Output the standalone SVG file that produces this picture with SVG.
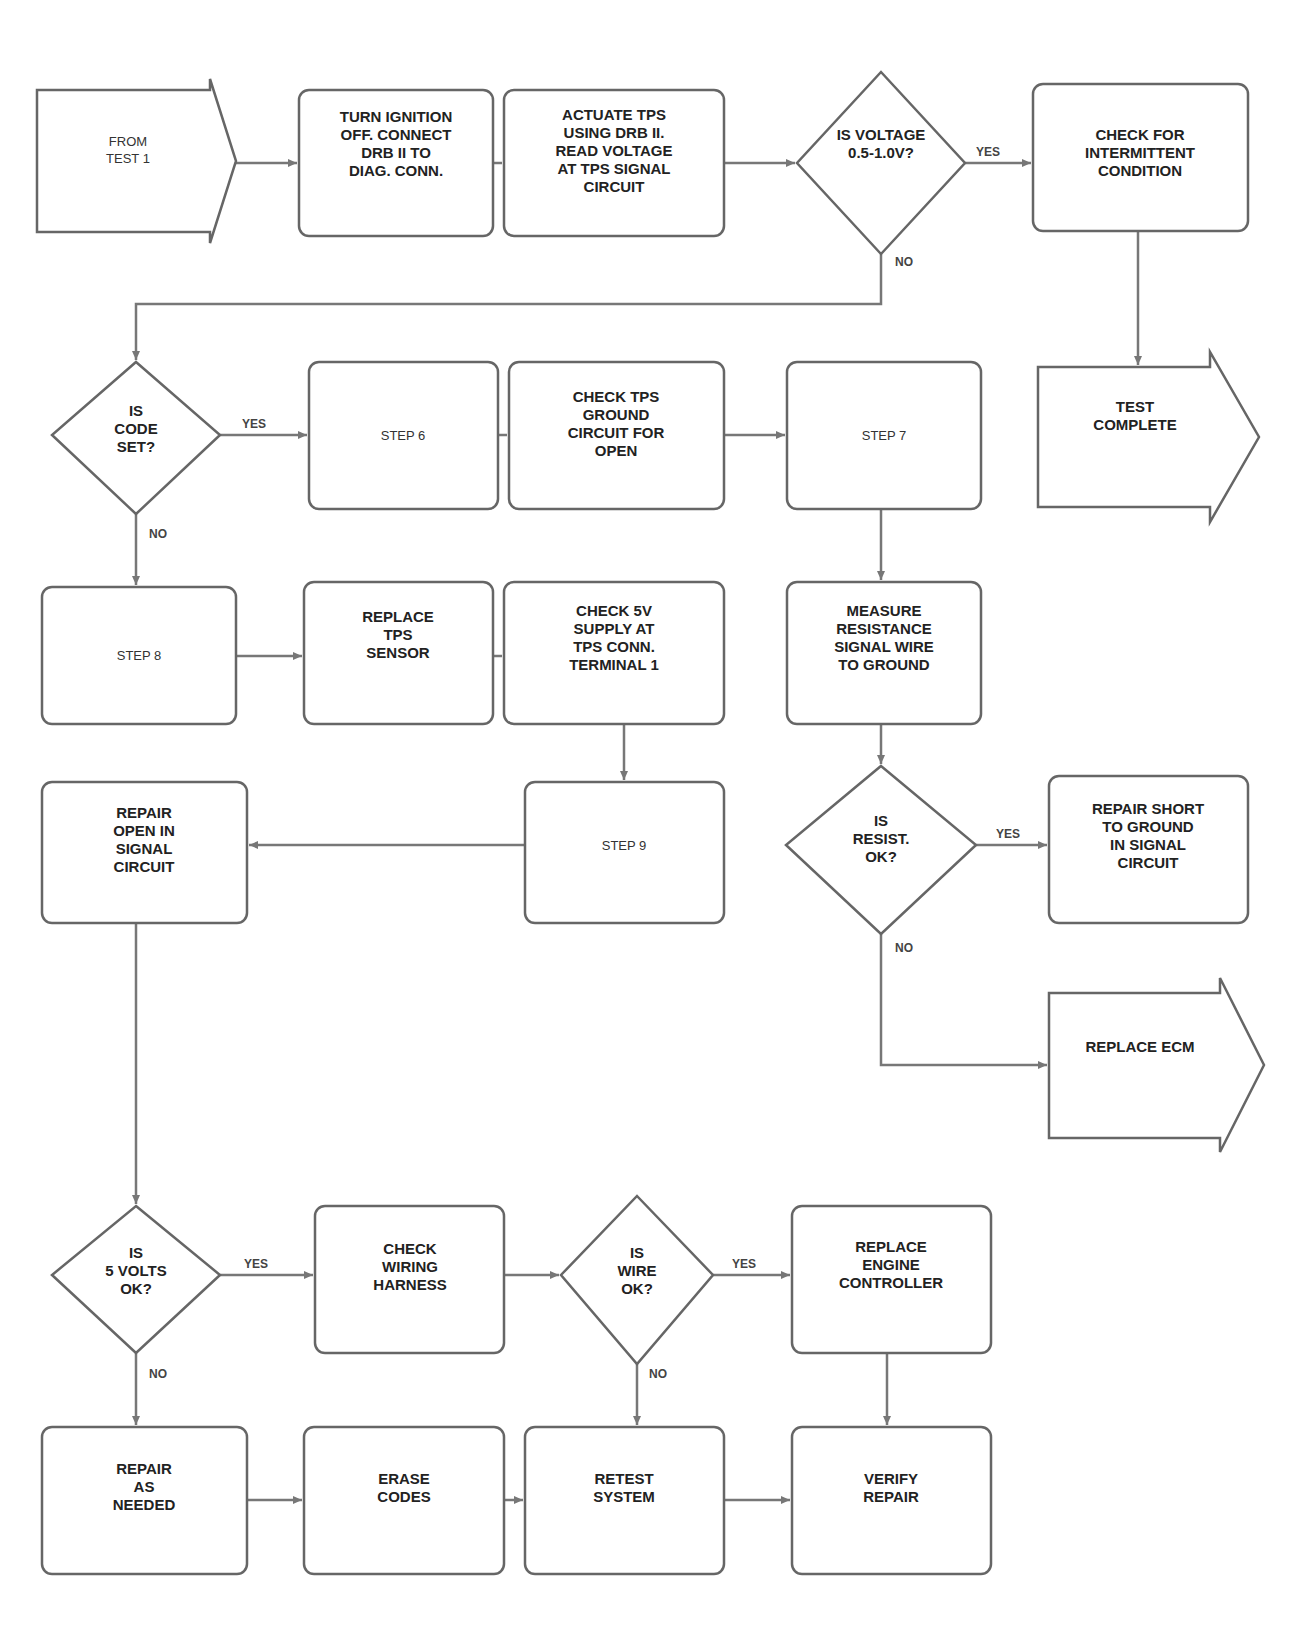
<svg xmlns="http://www.w3.org/2000/svg" width="1311" height="1647" viewBox="0 0 1311 1647">
<style>
.bx{fill:#fff;stroke:#666;stroke-width:2.5}
.ln{fill:none;stroke:#777;stroke-width:2.5}
.t{font-family:"Liberation Sans",Arial,sans-serif;font-size:15px;font-weight:bold;fill:#222;text-anchor:middle}
.s{font-family:"Liberation Sans",Arial,sans-serif;font-size:13px;fill:#333;text-anchor:middle}
.lb{font-family:"Liberation Sans",Arial,sans-serif;font-size:12px;font-weight:bold;fill:#444;text-anchor:middle}
</style>
<defs>
<marker id="ah" markerWidth="10" markerHeight="10" refX="9" refY="5" orient="auto" markerUnits="userSpaceOnUse">
<path d="M0,1 L9,5 L0,9 Z" fill="#777"/>
</marker>
</defs>
<rect width="1311" height="1647" fill="#fff"/>
<g id="connectors">
<path class="ln" d="M236 163 H297" marker-end="url(#ah)"/>
<path class="ln" d="M493 163 H502"/>
<path class="ln" d="M724 163 H795" marker-end="url(#ah)"/>
<path class="ln" d="M965 163 H1031" marker-end="url(#ah)"/>
<path class="ln" d="M1138 231 V365" marker-end="url(#ah)"/>
<path class="ln" d="M881 254 V304 H136 V360" marker-end="url(#ah)"/>
<path class="ln" d="M220 435 H307" marker-end="url(#ah)"/>
<path class="ln" d="M498 435 H507"/>
<path class="ln" d="M724 435 H785" marker-end="url(#ah)"/>
<path class="ln" d="M881 509 V580" marker-end="url(#ah)"/>
<path class="ln" d="M136 514 V585" marker-end="url(#ah)"/>
<path class="ln" d="M236 656 H302" marker-end="url(#ah)"/>
<path class="ln" d="M493 656 H502"/>
<path class="ln" d="M624 724 V780" marker-end="url(#ah)"/>
<path class="ln" d="M881 724 V764" marker-end="url(#ah)"/>
<path class="ln" d="M525 845 H249" marker-end="url(#ah)"/>
<path class="ln" d="M976 845 H1047" marker-end="url(#ah)"/>
<path class="ln" d="M881 934 V1065 H1047" marker-end="url(#ah)"/>
<path class="ln" d="M136 923 V1204" marker-end="url(#ah)"/>
<path class="ln" d="M220 1275 H313" marker-end="url(#ah)"/>
<path class="ln" d="M504 1275 H559" marker-end="url(#ah)"/>
<path class="ln" d="M713 1275 H790" marker-end="url(#ah)"/>
<path class="ln" d="M136 1353 V1425" marker-end="url(#ah)"/>
<path class="ln" d="M637 1364 V1425" marker-end="url(#ah)"/>
<path class="ln" d="M887 1353 V1425" marker-end="url(#ah)"/>
<path class="ln" d="M247 1500 H302" marker-end="url(#ah)"/>
<path class="ln" d="M504 1500 H523" marker-end="url(#ah)"/>
<path class="ln" d="M724 1500 H790" marker-end="url(#ah)"/>
<text class="lb" x="988" y="156">YES</text>
<text class="lb" x="904" y="266">NO</text>
<text class="lb" x="254" y="428">YES</text>
<text class="lb" x="158" y="538">NO</text>
<text class="lb" x="1008" y="838">YES</text>
<text class="lb" x="904" y="952">NO</text>
<text class="lb" x="256" y="1268">YES</text>
<text class="lb" x="158" y="1378">NO</text>
<text class="lb" x="744" y="1268">YES</text>
<text class="lb" x="658" y="1378">NO</text>
</g>
<g id="nA"><path class="bx" d="M37 90 H210 V79 L236 161 L210 243 V232 H37 Z"/>
<text class="s" x="128" y="146">FROM</text><text class="s" x="128" y="163">TEST 1</text></g>
<g id="nB"><rect class="bx" x="299" y="90" width="194" height="146" rx="10"/>
<text class="t" x="396" y="122">TURN IGNITION</text><text class="t" x="396" y="140">OFF. CONNECT</text><text class="t" x="396" y="158">DRB II TO</text><text class="t" x="396" y="176">DIAG. CONN.</text></g>
<g id="nC"><rect class="bx" x="504" y="90" width="220" height="146" rx="10"/>
<text class="t" x="614" y="120">ACTUATE TPS</text><text class="t" x="614" y="138">USING DRB II.</text><text class="t" x="614" y="156">READ VOLTAGE</text><text class="t" x="614" y="174">AT TPS SIGNAL</text><text class="t" x="614" y="192">CIRCUIT</text></g>
<g id="nD"><path class="bx" d="M881 72 L965 163 L881 254 L797 163 Z"/>
<text class="t" x="881" y="140">IS VOLTAGE</text><text class="t" x="881" y="158">0.5-1.0V?</text></g>
<g id="nE"><rect class="bx" x="1033" y="84" width="215" height="147" rx="10"/>
<text class="t" x="1140" y="140">CHECK FOR</text><text class="t" x="1140" y="158">INTERMITTENT</text><text class="t" x="1140" y="176">CONDITION</text></g>
<g id="nF"><path class="bx" d="M1038 367 H1210 V352 L1259 437 L1210 522 V507 H1038 Z"/>
<text class="t" x="1135" y="412">TEST</text><text class="t" x="1135" y="430">COMPLETE</text></g>
<g id="nG"><path class="bx" d="M136 362 L220 435 L136 514 L52 435 Z"/>
<text class="t" x="136" y="416">IS</text><text class="t" x="136" y="434">CODE</text><text class="t" x="136" y="452">SET?</text></g>
<g id="nH"><rect class="bx" x="309" y="362" width="189" height="147" rx="10"/>
<text class="s" x="403" y="440">STEP 6</text></g>
<g id="nI"><rect class="bx" x="509" y="362" width="215" height="147" rx="10"/>
<text class="t" x="616" y="402">CHECK TPS</text><text class="t" x="616" y="420">GROUND</text><text class="t" x="616" y="438">CIRCUIT FOR</text><text class="t" x="616" y="456">OPEN</text></g>
<g id="nJ"><rect class="bx" x="787" y="362" width="194" height="147" rx="10"/>
<text class="s" x="884" y="440">STEP 7</text></g>
<g id="nL"><rect class="bx" x="42" y="587" width="194" height="137" rx="10"/>
<text class="s" x="139" y="660">STEP 8</text></g>
<g id="nM"><rect class="bx" x="304" y="582" width="189" height="142" rx="10"/>
<text class="t" x="398" y="622">REPLACE</text><text class="t" x="398" y="640">TPS</text><text class="t" x="398" y="658">SENSOR</text></g>
<g id="nN"><rect class="bx" x="504" y="582" width="220" height="142" rx="10"/>
<text class="t" x="614" y="616">CHECK 5V</text><text class="t" x="614" y="634">SUPPLY AT</text><text class="t" x="614" y="652">TPS CONN.</text><text class="t" x="614" y="670">TERMINAL 1</text></g>
<g id="nK"><rect class="bx" x="787" y="582" width="194" height="142" rx="10"/>
<text class="t" x="884" y="616">MEASURE</text><text class="t" x="884" y="634">RESISTANCE</text><text class="t" x="884" y="652">SIGNAL WIRE</text><text class="t" x="884" y="670">TO GROUND</text></g>
<g id="nQ"><rect class="bx" x="42" y="782" width="205" height="141" rx="10"/>
<text class="t" x="144" y="818">REPAIR</text><text class="t" x="144" y="836">OPEN IN</text><text class="t" x="144" y="854">SIGNAL</text><text class="t" x="144" y="872">CIRCUIT</text></g>
<g id="nO"><rect class="bx" x="525" y="782" width="199" height="141" rx="10"/>
<text class="s" x="624" y="850">STEP 9</text></g>
<g id="nP"><path class="bx" d="M881 766 L976 845 L881 934 L786 845 Z"/>
<text class="t" x="881" y="826">IS</text><text class="t" x="881" y="844">RESIST.</text><text class="t" x="881" y="862">OK?</text></g>
<g id="nR"><rect class="bx" x="1049" y="776" width="199" height="147" rx="10"/>
<text class="t" x="1148" y="814">REPAIR SHORT</text><text class="t" x="1148" y="832">TO GROUND</text><text class="t" x="1148" y="850">IN SIGNAL</text><text class="t" x="1148" y="868">CIRCUIT</text></g>
<g id="nS"><path class="bx" d="M1049 993 H1220 V978 L1264 1065 L1220 1152 V1138 H1049 Z"/>
<text class="t" x="1140" y="1052">REPLACE ECM</text></g>
<g id="nT"><path class="bx" d="M136 1206 L220 1275 L136 1353 L52 1275 Z"/>
<text class="t" x="136" y="1258">IS</text><text class="t" x="136" y="1276">5 VOLTS</text><text class="t" x="136" y="1294">OK?</text></g>
<g id="nU"><rect class="bx" x="315" y="1206" width="189" height="147" rx="10"/>
<text class="t" x="410" y="1254">CHECK</text><text class="t" x="410" y="1272">WIRING</text><text class="t" x="410" y="1290">HARNESS</text></g>
<g id="nV"><path class="bx" d="M637 1196 L713 1275 L637 1364 L561 1275 Z"/>
<text class="t" x="637" y="1258">IS</text><text class="t" x="637" y="1276">WIRE</text><text class="t" x="637" y="1294">OK?</text></g>
<g id="nW"><rect class="bx" x="792" y="1206" width="199" height="147" rx="10"/>
<text class="t" x="891" y="1252">REPLACE</text><text class="t" x="891" y="1270">ENGINE</text><text class="t" x="891" y="1288">CONTROLLER</text></g>
<g id="nX"><rect class="bx" x="42" y="1427" width="205" height="147" rx="10"/>
<text class="t" x="144" y="1474">REPAIR</text><text class="t" x="144" y="1492">AS</text><text class="t" x="144" y="1510">NEEDED</text></g>
<g id="nY"><rect class="bx" x="304" y="1427" width="200" height="147" rx="10"/>
<text class="t" x="404" y="1484">ERASE</text><text class="t" x="404" y="1502">CODES</text></g>
<g id="nY2"><rect class="bx" x="525" y="1427" width="199" height="147" rx="10"/>
<text class="t" x="624" y="1484">RETEST</text><text class="t" x="624" y="1502">SYSTEM</text></g>
<g id="nZ"><rect class="bx" x="792" y="1427" width="199" height="147" rx="10"/>
<text class="t" x="891" y="1484">VERIFY</text><text class="t" x="891" y="1502">REPAIR</text></g>
</svg>
